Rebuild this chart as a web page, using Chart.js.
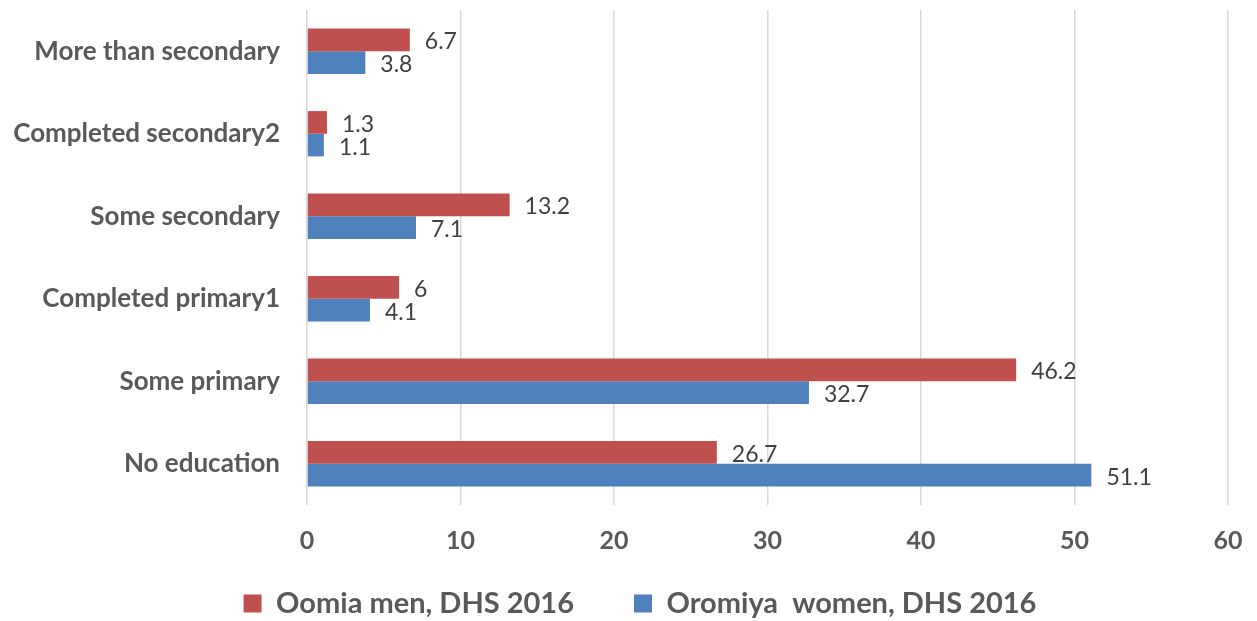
<!DOCTYPE html>
<html>
<head>
<meta charset="utf-8">
<script src="https://cdn.jsdelivr.net/npm/chart.js@4.4.1/dist/chart.umd.min.js"></script>
<style>
  html, body { margin: 0; padding: 0; background: #ffffff; }
  #wrap { width: 1257px; height: 621px; position: relative; }
</style>
</head>
<body>
<div id="wrap"><canvas id="c" width="1257" height="621"></canvas></div>
<script>
const categories = [
  "More than secondary",
  "Completed secondary2",
  "Some secondary",
  "Completed primary1",
  "Some primary",
  "No education"
];
const menLabel = "Oomia men, DHS 2016";
const womenLabel = "Oromiya  women, DHS 2016";
const menValues = [6.7, 1.3, 13.2, 6, 46.2, 26.7];
const womenValues = [3.8, 1.1, 7.1, 4.1, 32.7, 51.1];
const xMin = 0, xMax = 60, xStep = 10;

const FONT = "Lato, 'Open Sans', sans-serif";

const valueLabels = {
  id: 'valueLabels',
  afterDatasetsDraw(chart) {
    const ctx = chart.ctx;
    ctx.save();
    ctx.font = "23px " + FONT;
    ctx.fillStyle = "#404040";
    ctx.textAlign = "left";
    ctx.textBaseline = "middle";
    chart.data.datasets.forEach((ds, di) => {
      const meta = chart.getDatasetMeta(di);
      meta.data.forEach((el, i) => {
        ctx.fillText(String(ds.data[i]), el.x + 15, el.y + 2);
      });
    });
    ctx.restore();
  }
};

const legendShift = {
  id: 'legendShift',
  afterLayout(chart) {
    const lg = chart.legend;
    if (lg) {
      lg.left += 26; lg.right += 26;
      lg.top -= 36; lg.bottom -= 36;
    }
  }
};

new Chart(document.getElementById('c'), {
  type: 'bar',
  data: {
    labels: categories,
    datasets: [
      { label: menLabel, data: menValues, backgroundColor: '#C0504D',
        categoryPercentage: 0.55, barPercentage: 1.0 },
      { label: womenLabel, data: womenValues, backgroundColor: '#4F81BD',
        categoryPercentage: 0.55, barPercentage: 1.0 }
    ]
  },
  options: {
    indexAxis: 'y',
    responsive: false,
    animation: false,
    layout: { padding: { top: 10, right: 29, left: 0, bottom: -43 } },
    scales: {
      x: {
        min: xMin, max: xMax,
        afterFit(scale) { scale.height = 60; scale.paddingLeft = 0; scale.paddingRight = 0; },
        grid: { color: '#D9D9D9', lineWidth: 1.5, drawTicks: false },
        border: { display: false },
        ticks: { stepSize: xStep, padding: 21, color: '#595959', font: { family: FONT, size: 25, weight: 'bold' } }
      },
      y: {
        afterFit(scale) { scale.width = 307; scale.paddingTop = 0; scale.paddingBottom = 0; },
        grid: { display: false, drawTicks: false },
        border: { display: false },
        ticks: { padding: 27, color: '#595959', font: { family: FONT, size: 26, weight: 'bold' } }
      }
    },
    plugins: {
      legend: {
        position: 'bottom',
        labels: {
          padding: 60,
          boxWidth: 18, boxHeight: 18,
          color: '#595959',
          font: { family: FONT, size: 29, weight: 'bold' }
        }
      },
      tooltip: { enabled: false }
    }
  },
  plugins: [valueLabels, legendShift]
});
</script>
</body>
</html>
